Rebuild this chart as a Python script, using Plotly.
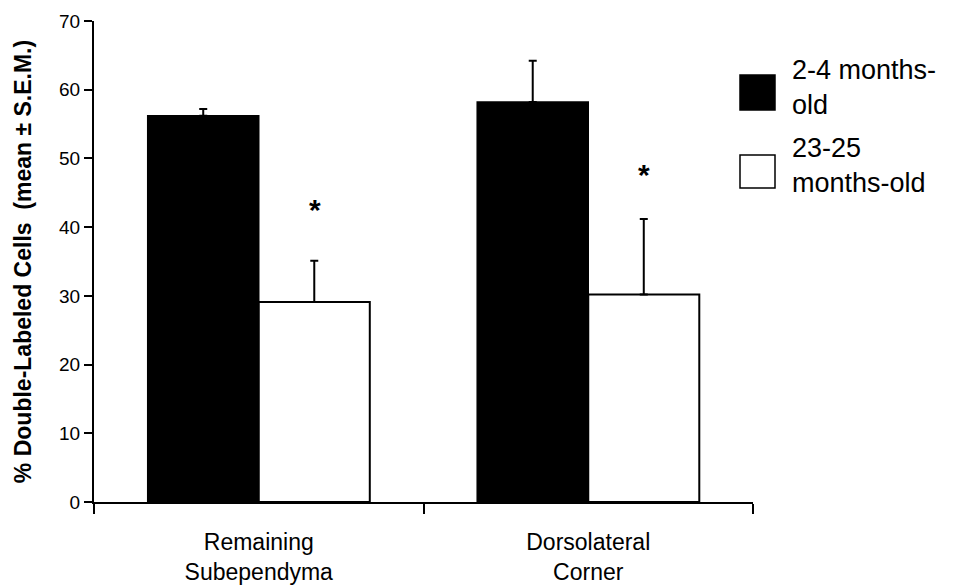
import plotly.graph_objects as go

categories = ["Remaining<br>Subependyma", "Dorsolateral<br>Corner"]
series_names = ["2-4 months-<br>old", "23-25<br>months-old"]
young_mean = [56.2, 58.2]
young_sem = [1.0, 6.0]
old_mean = [29.1, 30.2]
old_sem = [6.0, 11.0]
star_y = [42.5, 47.6]
y_ticks = [0, 10, 20, 30, 40, 50, 60, 70]

FONT = "Liberation Sans, Arial, Helvetica, sans-serif"

# plot-area geometry (screen pixels)
PL, PT, PW, PH = 94, 21, 659, 481


def px_x(px):
    return (px - PL) / PW


def px_y(py):
    return (PT + PH - py) / PH


fig = go.Figure()
fig.add_trace(go.Bar(
    x=categories, y=young_mean, name=series_names[0],
    marker=dict(color="black", line=dict(color="black", width=1.5)),
    error_y=dict(type="data", symmetric=False, array=young_sem, arrayminus=[0, 0],
                 color="black", thickness=2, width=4),
    showlegend=False,
))
fig.add_trace(go.Bar(
    x=categories, y=old_mean, name=series_names[1],
    marker=dict(color="white", line=dict(color="black", width=2)),
    error_y=dict(type="data", symmetric=False, array=old_sem, arrayminus=[0, 0],
                 color="black", thickness=2, width=4),
    showlegend=False,
))

# significance stars above the old-group bars
for c, sy in zip(categories, star_y):
    fig.add_annotation(x=c, y=sy, text="<b>*</b>", showarrow=False, xref="x", yref="y",
                       xshift=56, font=dict(family=FONT, size=30, color="black"))

# custom legend (large squares)
legend_rows = [
    (series_names[0], "black", (75, 110), 88),
    (series_names[1], "white", (155, 188), 166),
]
for name, col, (sq0, sq1), yc in legend_rows:
    fig.add_shape(type="rect", xref="paper", yref="paper",
                  x0=px_x(740), x1=px_x(775), y0=px_y(sq1), y1=px_y(sq0),
                  fillcolor=col, line=dict(color="black", width=1.5))
    fig.add_annotation(xref="paper", yref="paper", x=px_x(790), y=px_y(yc),
                       text=name, showarrow=False, xanchor="left", yanchor="middle",
                       align="left", font=dict(family=FONT, size=27, color="black"))

fig.update_layout(
    width=969, height=585,
    margin=dict(l=PL - 8, r=969 - (PL - 8) - PW, t=PT - 8, b=585 - (PT - 8) - PH),
    paper_bgcolor="white", plot_bgcolor="white",
    barmode="group", bargap=0.326, bargroupgap=0,
    font=dict(family=FONT, color="black"),
    xaxis=dict(
        showline=True, linecolor="black", linewidth=2, automargin=False,
        ticks="outside", tickson="boundaries", ticklen=10, tickwidth=1.5, tickcolor="black",
        tickfont=dict(family=FONT, size=23, color="black"), ticklabelstandoff=18,
        showgrid=False, zeroline=False, range=[-0.5, 1.5],
    ),
    yaxis=dict(
        range=[0, 70], tickvals=y_ticks, showline=True, linecolor="black", linewidth=2,
        automargin=False,
        ticks="outside", ticklen=8, tickwidth=1.5, tickcolor="black",
        tickfont=dict(family=FONT, size=19, color="black"),
        showgrid=False, zeroline=False,
        title=dict(text="<b>% Double-Labeled Cells  (mean ± S.E.M.)</b>",
                   font=dict(family=FONT, size=23, color="black"), standoff=21),
    ),
)

fig.write_html("out.html")
